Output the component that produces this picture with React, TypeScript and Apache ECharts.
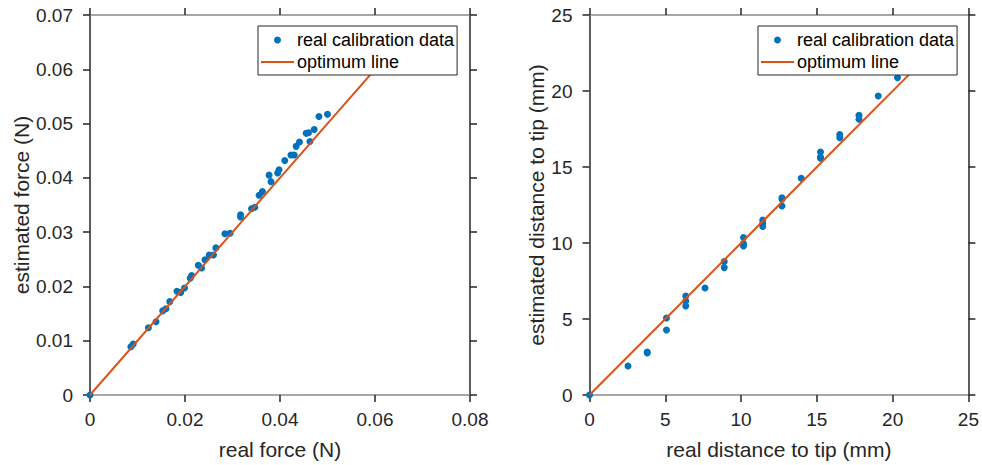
import React, { useEffect, useRef } from "react";
import * as echarts from "echarts";

// left panel: [real force, estimated force] in N
const forceData: number[][] = [
  [0, 0], [0.0086, 0.0089], [0.0091, 0.0094], [0.0123, 0.0124], [0.0139, 0.0135],
  [0.0153, 0.0155], [0.016, 0.0159], [0.0168, 0.0172], [0.0183, 0.0191], [0.0191, 0.0189],
  [0.0199, 0.0197], [0.0211, 0.0215], [0.0214, 0.022], [0.0228, 0.0239], [0.0235, 0.0234],
  [0.0242, 0.0249], [0.0251, 0.0258], [0.026, 0.0258], [0.0265, 0.0271], [0.0284, 0.0297],
  [0.0295, 0.0298], [0.0317, 0.0332], [0.0317, 0.0328], [0.034, 0.0343], [0.0347, 0.0346],
  [0.0356, 0.0368], [0.0363, 0.0375], [0.0377, 0.0405], [0.0381, 0.0393], [0.0395, 0.0409],
  [0.0398, 0.0415], [0.041, 0.0432], [0.0423, 0.0442], [0.043, 0.0442], [0.0434, 0.0458],
  [0.0441, 0.0466], [0.0455, 0.0482], [0.046, 0.0483], [0.0463, 0.0467], [0.0472, 0.0489],
  [0.0482, 0.0513], [0.05, 0.0517],
];
const forceLine: number[][] = [[0, 0], [0.06, 0.06]];

// right panel: [real distance, estimated distance] in mm
const distData: number[][] = [
  [0, 0], [2.54, 1.91], [3.81, 2.83], [3.81, 2.76], [5.08, 5.07], [5.08, 4.28],
  [6.35, 6.51], [6.35, 6.18], [6.35, 5.86], [7.62, 7.04], [8.89, 8.78], [8.89, 8.38],
  [10.16, 10.36], [10.16, 9.96], [10.16, 9.8], [11.43, 11.51], [11.43, 11.3], [11.43, 11.08],
  [12.7, 12.98], [12.7, 12.88], [12.7, 12.43], [13.97, 14.26], [15.24, 15.99], [15.24, 15.66],
  [15.24, 15.57], [16.51, 17.13], [16.51, 16.93], [17.78, 18.4], [17.78, 18.14],
  [19.05, 19.67], [20.32, 20.88],
];
const distLine: number[][] = [[0, 0], [22, 22]];

const legendNames = ["real calibration data", "optimum line"];
const forceAxisNames = ["real force (N)", "estimated force (N)"];
const distAxisNames = ["real distance to tip (mm)", "estimated distance to tip (mm)"];

const FONT = "'Liberation Sans', Arial, Helvetica, sans-serif";
const DARK = "#262626";
const BLUE = "#0072BD";
const ORANGE = "#D95319";

export default function App() {
  const ref = useRef<HTMLDivElement>(null);
  useEffect(() => {
    if (!ref.current) return;
    const chart = echarts.init(ref.current, undefined, { renderer: "svg" });

    const fmtForce = (v: number) => (v === 0 ? "0" : v.toFixed(2));
    const fmtInt = (v: number) => String(Math.round(v));

    const xAxisBase = (gridIndex: number, min: number, max: number, interval: number, fmt: (v: number) => string) => [
      {
        type: "value", gridIndex, position: "bottom", min, max, interval,
        axisLine: { show: true, onZero: false, lineStyle: { color: "#8a8a8a", width: 1.5 } },
        axisTick: { show: true, inside: false, length: 7, lineStyle: { color: DARK, width: 1.5 } },
        axisLabel: { show: true, color: DARK, fontSize: 19, fontFamily: FONT, margin: 15, formatter: fmt },
        splitLine: { show: false },
      },
      {
        type: "value", gridIndex, position: "top", min, max, interval,
        axisLine: { show: true, onZero: false, lineStyle: { color: "#8a8a8a", width: 1.5 } },
        axisTick: { show: true, inside: false, length: 7, lineStyle: { color: DARK, width: 1.5 } },
        axisLabel: { show: false },
        splitLine: { show: false },
      },
    ];
    const yAxisBase = (gridIndex: number, min: number, max: number, interval: number, fmt: (v: number) => string) => [
      {
        type: "value", gridIndex, position: "left", min, max, interval,
        axisLine: { show: true, onZero: false, lineStyle: { color: DARK, width: 1.5 } },
        axisTick: { show: true, inside: false, length: 7, lineStyle: { color: DARK, width: 1.5 } },
        axisLabel: { show: true, color: DARK, fontSize: 19, fontFamily: FONT, margin: 17, formatter: fmt },
        splitLine: { show: false },
      },
      {
        type: "value", gridIndex, position: "right", min, max, interval,
        axisLine: { show: true, onZero: false, lineStyle: { color: DARK, width: 1.5 } },
        axisTick: { show: true, inside: false, length: 7, lineStyle: { color: DARK, width: 1.5 } },
        axisLabel: { show: false },
        splitLine: { show: false },
      },
    ];

    const xAxes: any[] = [
      ...xAxisBase(0, 0, 0.08, 0.02, fmtForce),
      ...xAxisBase(1, 0, 25, 5, fmtInt),
    ];
    const yAxes: any[] = [
      ...yAxisBase(0, 0, 0.07, 0.01, fmtForce),
      ...yAxisBase(1, 0, 25, 5, fmtInt),
    ];
    const nameStyle = { color: DARK, fontSize: 21, fontFamily: FONT };
    Object.assign(xAxes[0], { name: forceAxisNames[0], nameLocation: "middle", nameGap: 44, nameTextStyle: nameStyle });
    Object.assign(xAxes[2], { name: distAxisNames[0], nameLocation: "middle", nameGap: 44, nameTextStyle: nameStyle });
    Object.assign(yAxes[0], { name: forceAxisNames[1], nameLocation: "middle", nameGap: 53, nameTextStyle: nameStyle });
    Object.assign(yAxes[2], { name: distAxisNames[1], nameLocation: "middle", nameGap: 43, nameTextStyle: nameStyle });

    const legendCommon = {
      orient: "vertical",
      data: [
        { name: legendNames[0], icon: "circle" },
        { name: legendNames[1], icon: "path://M0 0 H33 V2 H0 Z" },
      ],
      backgroundColor: "#ffffff",
      borderColor: DARK,
      borderWidth: 1,
      borderRadius: 0,
      padding: [5, 3, 4, 3],
      itemWidth: 33,
      itemHeight: 7,
      itemGap: 4,
      textStyle: { color: "#000", fontSize: 18, fontFamily: FONT, padding: [0, 0, 0, -2] },
      selectedMode: false,
      z: 10,
    };

    const scatterStyle = (xi: number, yi: number, data: number[][]) => ({
      name: legendNames[0], type: "scatter", xAxisIndex: xi, yAxisIndex: yi, data,
      symbol: "circle", symbolSize: 7, itemStyle: { color: BLUE, opacity: 1 }, z: 2,
    });
    const lineStyle = (xi: number, yi: number, data: number[][]) => ({
      name: legendNames[1], type: "line", xAxisIndex: xi, yAxisIndex: yi, data,
      showSymbol: false, symbol: "none", lineStyle: { color: ORANGE, width: 2 },
      itemStyle: { color: ORANGE }, z: 3,
    });

    chart.setOption({
      animation: false,
      backgroundColor: "#ffffff",
      grid: [
        { left: 90, right: 512, top: 15, bottom: 69 },
        { left: 589.5, right: 12.5, top: 15, bottom: 69 },
      ],
      xAxis: xAxes,
      yAxis: yAxes,
      legend: [
        { ...legendCommon, left: 258, top: 26 },
        { ...legendCommon, left: 758, top: 26 },
      ],
      series: [
        scatterStyle(0, 0, forceData),
        lineStyle(0, 0, forceLine),
        scatterStyle(2, 2, distData),
        lineStyle(2, 2, distLine),
      ],
    });
    return () => chart.dispose();
  }, []);
  return <div ref={ref} style={{ position: "fixed", left: 0, top: 0, width: 982, height: 465 }} />;
}
